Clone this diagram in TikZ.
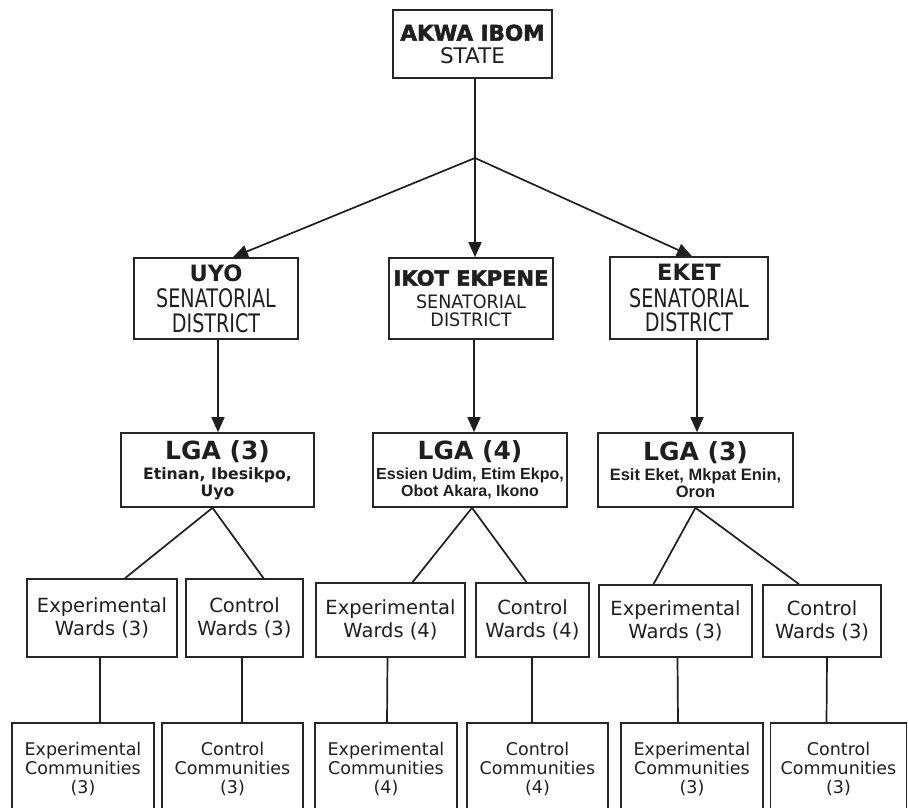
\documentclass[tikz,border=0pt]{standalone}
\usepackage{fontspec}
\setmainfont{DejaVu Sans}
\newfontfamily\condf[FakeStretch=0.75]{DejaVu Sans}
\newfontfamily\condg[FakeStretch=0.95]{DejaVu Sans}
\newfontfamily\heavyf[BoldFeatures={FakeBold=2.2}]{DejaVu Sans}
\newfontfamily\libs{Liberation Sans}
\usetikzlibrary{arrows.meta,calc}
\begin{document}
\begin{tikzpicture}[x=1pt,y=-1pt,
  box/.style={draw=black!85, line width=1.6pt, inner sep=0pt, align=center, text=black!88},
  conn/.style={line width=1.7pt, draw=black!88},
  arr/.style={conn, -{Triangle[length=15pt,width=13pt]}},
  sen/.style={box, minimum height=81pt, font=\condf\fontsize{25.5}{24.5}\selectfont},
  lga/.style={box, minimum height=74pt},
  ward/.style={box, font=\fontsize{19.5}{22.7}\selectfont},
  comm/.style={box, minimum height=92pt, font=\fontsize{17.5}{19}\selectfont},
]
\useasboundingbox (0,0) rectangle (908,808);
\clip (0,0) rectangle (908,808);

% top
\node[box, minimum width=159pt, minimum height=68pt, font=\fontsize{21.5}{22.5}\selectfont] (top) at (472.5,44)
  {{\heavyf\bfseries AKWA IBOM}\\STATE};

% senatorial districts
\node[sen, minimum width=164pt] (uyo) at (216,298.5)
  {{\normalfont\bfseries\fontsize{22.5}{23}\selectfont UYO}\\[2pt]SENATORIAL\\DISTRICT};
\node[box, minimum width=164pt, minimum height=81pt, font=\condg\fontsize{18.5}{18.5}\selectfont] (ikot) at (471,298.5)
  {{\heavyf\bfseries\fontsize{21}{21}\selectfont IKOT EKPENE}\\[4pt]SENATORIAL\\DISTRICT};
\node[sen, minimum width=158pt, minimum height=82pt] (eket) at (689,298)
  {{\normalfont\bfseries\fontsize{22.5}{23}\selectfont EKET}\\[2pt]SENATORIAL\\DISTRICT};

% LGAs
\node[lga, minimum width=193pt, font=\bfseries\fontsize{15.7}{17}\selectfont] (lga1) at (217.5,470)
  {{\fontsize{25}{25}\selectfont LGA (3)}\\[3pt]Etinan, Ibesikpo,\\Uyo};
\node[lga, minimum width=194pt, font=\libs\bfseries\fontsize{16}{17}\selectfont] (lga2) at (470,470)
  {{\normalfont\bfseries\fontsize{25}{25}\selectfont LGA (4)}\\[3pt]Essien Udim, Etim Ekpo,\\Obot Akara, Ikono};
\node[lga, minimum width=195pt, font=\libs\bfseries\fontsize{16.5}{17}\selectfont] (lga3) at (695.5,470)
  {{\normalfont\bfseries\fontsize{25}{25}\selectfont LGA (3)}\\[3pt]Esit Eket, Mkpat Enin,\\Oron};

% wards
\node[ward, minimum width=150pt, minimum height=78pt] (we1) at (102,618) {Experimental\\Wards (3)};
\node[ward, minimum width=117pt, minimum height=78pt] (wc1) at (244.5,618) {Control\\Wards (3)};
\node[ward, minimum width=149pt, minimum height=74pt] (we2) at (390.5,620) {Experimental\\Wards (4)};
\node[ward, minimum width=113pt, minimum height=74pt] (wc2) at (532.5,620) {Control\\Wards (4)};
\node[ward, minimum width=153pt, minimum height=72pt] (we3) at (675.5,621) {Experimental\\Wards (3)};
\node[ward, minimum width=118pt, minimum height=72pt] (wc3) at (822,621) {Control\\Wards (3)};

% communities
\node[comm, minimum width=142pt] (ce1) at (83,769) {Experimental\\Communities\\(3)};
\node[comm, minimum width=141pt] (cc1) at (232.5,769) {Control\\Communities\\(3)};
\node[comm, minimum width=142pt] (ce2) at (386,769) {Experimental\\Communities\\(4)};
\node[comm, minimum width=141pt] (cc2) at (537.5,769) {Control\\Communities\\(4)};
\node[comm, minimum width=142pt] (ce3) at (692,769) {Experimental\\Communities\\(3)};
\node[comm, minimum width=136pt] (cc3) at (838.5,769) {Control\\Communities\\(3)};

% top connectors
\coordinate (J) at (475,158);
\draw[conn] (top.south -| J) -- (J);
\draw[arr] (J) -- ($(uyo.north)+(17,0)$);
\draw[arr] (J) -- (J |- ikot.north);
\draw[arr] (J) -- ($(eket.north)+(3,0)$);

% senatorial to LGA
\draw[arr] ($(uyo.south)+(2,0)$) -- ($(lga1.north)+(0.5,0)$);
\draw[arr] ($(ikot.south)+(3,0)$) -- ($(lga2.north)+(4,0)$);
\draw[arr] ($(eket.south)+(8,0)$) -- ($(lga3.north)+(1.5,0)$);

% LGA to wards
\draw[conn] ($(we1.north)+(23,0)$) -- ($(lga1.south)+(-5,0)$) -- ($(wc1.north)+(19,0)$);
\draw[conn] ($(we2.north)+(22,0)$) -- ($(lga2.south)+(2,0)$) -- ($(wc2.north)+(-6,0)$);
\draw[conn] ($(we3.north)+(-22,0)$) -- (lga3.south) -- ($(wc3.north)+(-23,0)$);

% wards to communities
\draw[conn] ($(we1.south)+(-2,0)$) -- ($(ce1.north)+(17,0)$);
\draw[conn] ($(wc1.south)+(-2.5,0)$) -- ($(cc1.north)+(9.5,0)$);
\draw[conn] ($(we2.south)+(-3,0)$) -- ($(ce2.north)+(1,0)$);
\draw[conn] ($(wc2.south)+(-0.5,0)$) -- ($(cc2.north)+(-5.5,0)$);
\draw[conn] ($(we3.south)+(2,0)$) -- ($(ce3.north)+(-14,0)$);
\draw[conn] ($(wc3.south)+(5,0)$) -- ($(cc3.north)+(-12,0)$);
\end{tikzpicture}
\end{document}
